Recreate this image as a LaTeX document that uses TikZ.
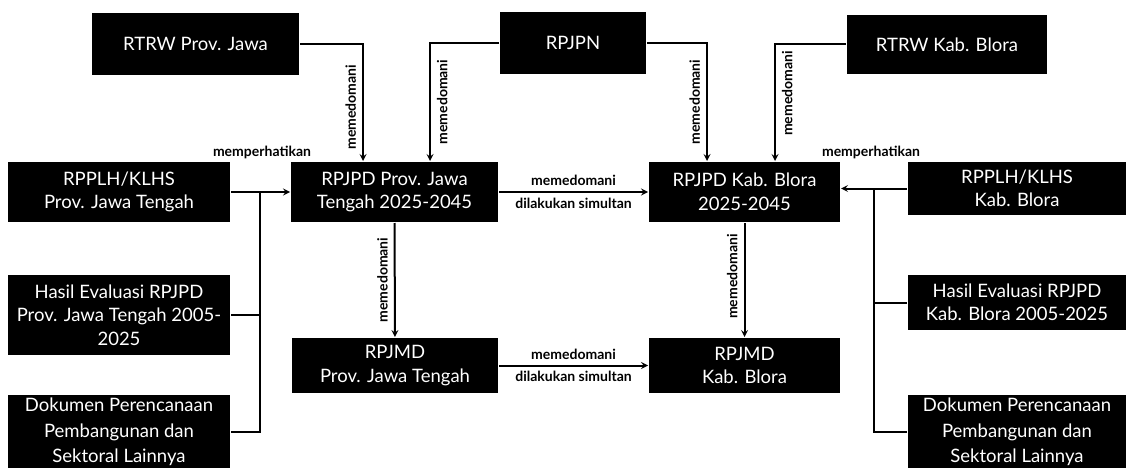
\documentclass[tikz,border=0pt]{standalone}
\usepackage{fontspec}
\setmainfont{Lato}
\begin{document}
\begin{tikzpicture}[>=stealth, x=1pt, y=-1pt, line width=2pt,
    box/.style={fill=black, text=white, align=center, inner sep=0pt,
        font=\fontsize{18.5}{23.5}\selectfont},
    lbl/.style={font=\fontsize{14}{16}\selectfont\bfseries, inner sep=5pt},
    vlbl/.style={lbl, rotate=90, inner sep=6pt}]
\useasboundingbox (0,0) rectangle (1126,468);
% atas
\node[box, minimum width=207, minimum height=62](rtrwprov) at (195.5,44){RTRW Prov. Jawa};
\node[box, minimum width=146, minimum height=62](rpjpn) at (573,43){RPJPN};
\node[box, minimum width=200, minimum height=59](rtrwkab) at (947,44.5){RTRW Kab. Blora};
% tengah
\node[box, minimum width=207, minimum height=60](rpjpdprov) at (394.5,192){RPJPD Prov. Jawa\\Tengah 2025-2045};
\node[box, minimum width=191, minimum height=60](rpjpdkab) at (744.5,192){RPJPD Kab. Blora\\2025-2045};
\node[box, minimum width=206, minimum height=55](rpjmdprov) at (395,365.5){RPJMD\\Prov. Jawa Tengah};
\node[box, minimum width=191, minimum height=55](rpjmdkab) at (744.5,365.5){RPJMD\\Kab. Blora};
% kiri
\node[box, minimum width=222, minimum height=60](rpplhprov) at (119,192){RPPLH/KLHS\\Prov. Jawa Tengah};
\node[box, minimum width=222, minimum height=80](hasilprov) at (119,315){Hasil Evaluasi RPJPD\\Prov. Jawa Tengah 2005-\\2025};
\node[box, minimum width=222, minimum height=75, font=\fontsize{18.5}{25.5}\selectfont](dokprov) at (119,432){Dokumen Perencanaan\\Pembangunan dan\\Sektoral Lainnya};
% kanan
\node[box, minimum width=218, minimum height=53](rpplhkab) at (1017,188.5){RPPLH/KLHS\\Kab. Blora};
\node[box, minimum width=218, minimum height=55](hasilkab) at (1017,302.5){Hasil Evaluasi RPJPD\\Kab. Blora 2005-2025};
\node[box, minimum width=218, minimum height=75, font=\fontsize{18.5}{25.5}\selectfont](dokkab) at (1017,432){Dokumen Perencanaan\\Pembangunan dan\\Sektoral Lainnya};

\coordinate(busprov) at (260,192);
\coordinate(buskab) at (874,188.5);

% memedomani dari atas
\draw[->](rtrwprov.east)-|node[vlbl, pos=.77, anchor=south]{memedomani}([xshift=-31.5]rpjpdprov.north);
\draw[->](rpjpn.west)-|node[vlbl, pos=.75, anchor=north]{memedomani}([xshift=35.5]rpjpdprov.north);
\draw[->](rpjpn.east)-|node[vlbl, pos=.75, anchor=south]{memedomani}([xshift=-37.5]rpjpdkab.north);
\draw[->](rtrwkab.west)-|node[vlbl, pos=.71, anchor=north]{memedomani}([xshift=30.5]rpjpdkab.north);
% prov -> kab
\draw[->](rpjpdprov)--node[lbl, above]{memedomani}node[lbl, below]{dilakukan simultan}(rpjpdkab);
\draw[->](rpjmdprov)--node[lbl, above]{memedomani}node[lbl, below]{dilakukan simultan}(rpjmdkab);
\draw[->](rpjpdprov)--node[vlbl, pos=.5, anchor=south]{memedomani}(rpjmdprov);
\draw[->](rpjpdkab)--node[vlbl, pos=.47, anchor=south]{memedomani}(rpjmdkab);
% memperhatikan
\draw[->](rpplhprov)--(rpjpdprov);
\draw(hasilprov.east)-|(busprov);
\draw(dokprov.east)-|(busprov);
\node[lbl](memprov) at (262,152){memperhatikan};
\draw[->](rpplhkab.west)--(rpplhkab.west-|rpjpdkab.east);
\draw(hasilkab.west)-|(buskab);
\draw(dokkab.west)-|(buskab);
\node[lbl](memkab) at (871,152){memperhatikan};
\end{tikzpicture}
\end{document}
